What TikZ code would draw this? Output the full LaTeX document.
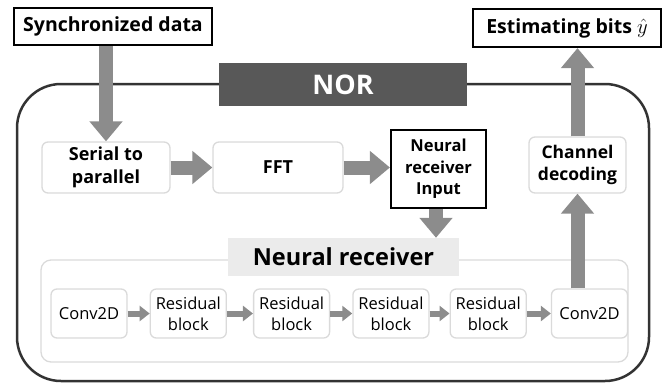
\documentclass[tikz,border=0pt]{standalone}
\usepackage{fontspec}
\setmainfont{Open Sans}
\usepackage{amsmath}
\usetikzlibrary{arrows.meta,positioning}
\definecolor{arrgray}{HTML}{8C8C8C}
\definecolor{softline}{HTML}{DADADA}
\definecolor{norgray}{HTML}{585858}
\definecolor{labgray}{HTML}{EBEBEB}
\tikzset{
	box_out/.style = {draw=black, line width=2.2pt, fill=white, inner sep=0pt,
		align=center, font=\bfseries\fontsize{19.5}{22}\selectfont},% black framed box
	box_soft/.style = {draw=softline, line width=1.3pt, rounded corners=6pt, fill=white,
		inner sep=0pt, align=center, font=\bfseries\fontsize{17.5}{22}\selectfont},% light box
	box_blk/.style = {box_soft, minimum width=76pt, minimum height=49pt,
		font=\fontsize{16.5}{21}\selectfont},% block inside the neural receiver
	arr_big/.style = {draw=arrgray, line width=14pt, -{Triangle[width=32pt,length=20pt]}},
	arr_small/.style = {draw=arrgray, line width=6pt, -{Triangle[width=15pt,length=10pt]}}
}
\begin{document}
\begin{tikzpicture}[x=1pt,y=-1pt,node distance=22pt]
\useasboundingbox (0,0) rectangle (672,384);
% outer NOR frame and receiver frame
\draw[line width=2.5pt, draw=black!80, rounded corners=44pt] (17,84) rectangle (649,381);
\draw[draw=softline, line width=1.3pt, rounded corners=10pt] (41,260) rectangle (628,362);
\node[fill=norgray, text=white, minimum width=248pt, minimum height=43pt, inner sep=0pt,
	font=\bfseries\fontsize{27}{30}\selectfont] (nor) at (343,84.5) {NOR};
\node[fill=labgray, minimum width=231pt, minimum height=38pt, inner sep=0pt,
	font=\bfseries\fontsize{23.5}{26}\selectfont] (nrlabel) at (343.5,257) {Neural receiver};
% outside boxes
\node[box_out, minimum width=198pt, minimum height=37pt] (sync) at (113,26.5) {Synchronized data};
\node[box_out, minimum width=188pt, minimum height=38pt] (est) at (567,28) {Estimating bits $\hat{y}$};
% NOR chain
\node[box_soft, minimum width=128pt, minimum height=51pt, font=\bfseries\fontsize{18}{23}\selectfont]
	(s2p) at (106,167.5) {Serial to\\parallel};
\node[box_soft, minimum width=130pt, minimum height=51pt, font=\bfseries\fontsize{18}{23}\selectfont]
	(fft) at (278,167.5) {FFT};
\node[box_out, minimum width=95pt, minimum height=78pt, font=\bfseries\fontsize{16.5}{21.5}\selectfont]
	(nri) at (438.5,169) {Neural\\receiver\\Input};
\node[box_soft, minimum width=97pt, minimum height=56pt] (chd) at (577.5,165) {Channel\\decoding};
% neural receiver blocks
\node[box_blk] (conv1) at (89,313.5) {Conv2D};
\node[box_blk, right=of conv1] (res1) {Residual\\block};
\node[box_blk, right=26pt of res1] (res2) {Residual\\block};
\node[box_blk, right=of res2] (res3) {Residual\\block};
\node[box_blk, right=20pt of res3] (res4) {Residual\\block};
\node[box_blk, right=24pt of res4] (conv2) {Conv2D};
% arrows
\draw[arr_big] (s2p.north |- sync.south) -- (s2p.north);
\draw[arr_big] (s2p.east) -- (fft.west);
\draw[arr_big] (fft.east) -- (fft.east -| nri.west);
\draw[arr_big] (nri.south -| 436,0) -- (436,0 |- nrlabel.north);
\draw[arr_big] (chd.south |- conv2.north) -- (chd.south);
\draw[arr_big] (chd.north) -- (chd.north |- est.south);
\foreach \a/\b in {conv1/res1,res1/res2,res2/res3,res3/res4,res4/conv2}
	\draw[arr_small] (\a.east) -- (\b.west);
\end{tikzpicture}
\end{document}
